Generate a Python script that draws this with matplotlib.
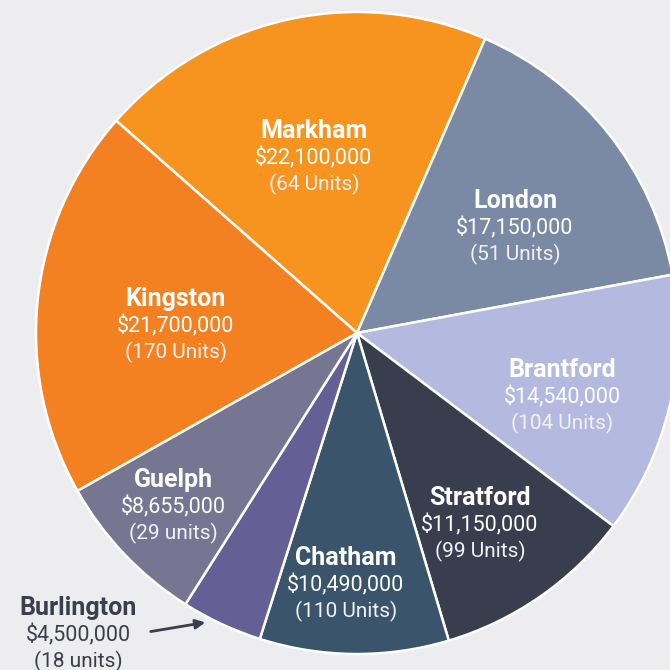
import matplotlib.pyplot as plt
import numpy as np

plt.rcParams['font.family'] = ['Roboto', 'DejaVu Sans']

cities = ['Markham', 'London', 'Brantford', 'Stratford', 'Chatham', 'Burlington', 'Guelph', 'Kingston']
amounts = [22100000, 17150000, 14540000, 11150000, 10490000, 4500000, 8655000, 21700000]
units = ['64 Units', '51 Units', '104 Units', '99 Units', '110 Units', '18 units', '29 units', '170 Units']
colors = ['#F7941F', '#7B8AA4', '#B4BADF', '#383E4E', '#3A546C', '#655F96', '#777692', '#F38121']

# label centres in image pixels (x, y of the name line)
label_px = {
    'Markham': (314, 131), 'London': (515, 201), 'Brantford': (562, 370),
    'Stratford': (480, 498), 'Chatham': (346, 558), 'Guelph': (173, 480),
    'Kingston': (176, 299), 'Burlington': (78, 608),
}

CX, CY, R = 357, 333, 321
BG = '#EDEDEF'


def px(x, y):
    return (x - CX) / R, (CY - y) / R


fig = plt.figure(figsize=(6.7, 6.7), dpi=100, facecolor=BG)
ax = fig.add_axes([0, 0, 1, 1])
ax.set_facecolor(BG)

ax.pie(amounts, colors=colors, startangle=138.6, counterclock=False, radius=1,
       wedgeprops=dict(edgecolor='white', linewidth=1.8))

for city, amt, unit in zip(cities, amounts, units):
    x, y = px(*label_px[city])
    col = '#3A3F4D' if city == 'Burlington' else 'white'
    ucol = '#3A3F4D' if city == 'Burlington' else '#F2F2F5'
    ax.text(x, y, city, ha='center', va='center', fontsize=18, fontweight='bold', color=col)
    ax.text(x, y - 27 / R, f'${amt:,}', ha='center', va='center', fontsize=15.5, color=col)
    ax.text(x, y - 53 / R, f'({unit})', ha='center', va='center', fontsize=15,
            color=ucol)

ax.annotate('', xy=px(208, 622), xytext=px(148, 632),
            arrowprops=dict(arrowstyle='-|>', color='#3A3F4D', lw=2, mutation_scale=14))

ax.set_xlim(-CX / R, (670 - CX) / R)
ax.set_ylim((CY - 670) / R, CY / R)
ax.set_aspect('equal')
ax.axis('off')

fig.savefig('out.png', dpi=100, facecolor=BG)
